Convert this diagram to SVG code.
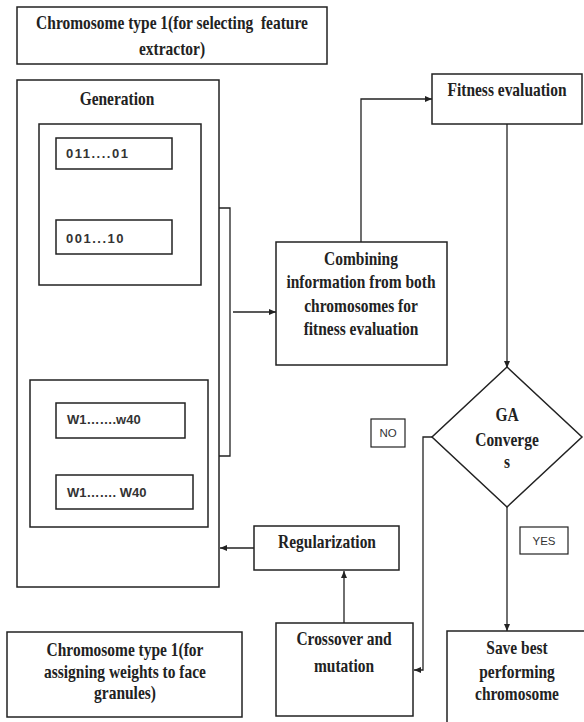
<svg xmlns="http://www.w3.org/2000/svg" width="584" height="722" viewBox="0 0 584 722">
<style>
.box{fill:#fff;stroke:#222;stroke-width:1.5}
.t{font-family:'Liberation Serif','DejaVu Serif',serif;font-weight:bold;font-size:18px;fill:#222;text-anchor:middle}
.c{font-family:'Liberation Sans','DejaVu Sans',sans-serif;font-weight:bold;font-size:13px;fill:#333}
.s{font-family:'Liberation Sans','DejaVu Sans',sans-serif;font-size:11.5px;fill:#333;text-anchor:middle}
.ln{fill:none;stroke:#222;stroke-width:1.3}
</style>
<defs>
<marker id="ah" markerWidth="8" markerHeight="8" refX="7" refY="4" orient="auto" markerUnits="userSpaceOnUse">
<path d="M0,1 L7,4 L0,7 Z" fill="#222"/>
</marker>
</defs>
<rect width="584" height="722" fill="#fff"/>

<g id="connectors">
<polyline class="ln" points="201,208 230,208 230,456 208,456"/>
<line class="ln" x1="233" y1="312" x2="276" y2="312" marker-end="url(#ah)"/>
<polyline class="ln" points="361,242 361,99 432,99" marker-end="url(#ah)"/>
<line class="ln" x1="507" y1="124" x2="507" y2="368" marker-end="url(#ah)"/>
<polyline class="ln" points="432,437 423,437 423,670 414,670" marker-end="url(#ah)"/>
<line class="ln" x1="507" y1="507" x2="507" y2="631" marker-end="url(#ah)"/>
<line class="ln" x1="344" y1="623" x2="344" y2="571" marker-end="url(#ah)"/>
<line class="ln" x1="254" y1="548" x2="220" y2="548" marker-end="url(#ah)"/>
</g>

<g id="chromo-type1-top">
<rect class="box" x="17" y="7" width="310" height="57"/>
<text class="t" transform="translate(172,29) scale(0.86,1)" style="white-space:pre">Chromosome type 1(for selecting  feature</text>
<text class="t" transform="translate(172,55) scale(0.86,1)">extractor)</text>
</g>

<g id="generation">
<rect class="box" x="17" y="80" width="202" height="507"/>
<text class="t" transform="translate(117,105) scale(0.86,1)">Generation</text>
</g>

<g id="group1">
<rect class="box" x="39" y="124" width="162" height="161"/>
</g>
<g id="bits1">
<rect class="box" x="56" y="138" width="116" height="31"/>
<text class="c" x="66" y="158" letter-spacing="1.5">011....01</text>
</g>
<g id="bits2">
<rect class="box" x="56" y="220" width="116" height="34"/>
<text class="c" x="66" y="243" letter-spacing="1.5">001...10</text>
</g>

<g id="group2">
<rect class="box" x="30" y="380" width="178" height="147"/>
</g>
<g id="weights1">
<rect class="box" x="56" y="403" width="129" height="35"/>
<text class="c" x="67" y="424">W1…….w40</text>
</g>
<g id="weights2">
<rect class="box" x="56" y="475" width="137" height="34"/>
<text class="c" x="67" y="497">W1……. W40</text>
</g>

<g id="combining">
<rect class="box" x="276" y="242" width="171" height="123"/>
<text class="t" transform="translate(361,265) scale(0.86,1)">Combining</text>
<text class="t" transform="translate(361,288) scale(0.86,1)">information from both</text>
<text class="t" transform="translate(361,312) scale(0.86,1)">chromosomes for</text>
<text class="t" transform="translate(361,335) scale(0.86,1)">fitness evaluation</text>
</g>

<g id="fitness">
<rect class="box" x="432" y="74" width="150" height="50"/>
<text class="t" transform="translate(507,96) scale(0.86,1)">Fitness evaluation</text>
</g>

<g id="ga-converges">
<polygon class="box" points="507,367 582,437 507,507 432,437"/>
<text class="t" transform="translate(507,421) scale(0.86,1)">GA</text>
<text class="t" transform="translate(507,446) scale(0.86,1)">Converge</text>
<text class="t" transform="translate(507,468) scale(0.86,1)">s</text>
</g>

<g id="no-label">
<rect class="box" x="371" y="419" width="34" height="28" style="stroke-width:1.2"/>
<text class="s" x="388" y="437">NO</text>
</g>

<g id="yes-label">
<rect class="box" x="520" y="527" width="48" height="27" style="stroke-width:1.2"/>
<text class="s" x="544" y="545">YES</text>
</g>

<g id="regularization">
<rect class="box" x="254" y="526" width="145" height="44"/>
<text class="t" transform="translate(327,548) scale(0.86,1)">Regularization</text>
</g>

<g id="crossover">
<rect class="box" x="276" y="623" width="137" height="93"/>
<text class="t" transform="translate(344,645) scale(0.86,1)">Crossover and</text>
<text class="t" transform="translate(344,672) scale(0.86,1)">mutation</text>
</g>

<g id="save-best">
<rect class="box" x="447" y="631" width="160" height="110"/>
<text class="t" transform="translate(517,654) scale(0.86,1)">Save best</text>
<text class="t" transform="translate(517,678) scale(0.86,1)">performing</text>
<text class="t" transform="translate(517,700) scale(0.86,1)">chromosome</text>
</g>

<g id="chromo-type1-bottom">
<rect class="box" x="7" y="632" width="235" height="85"/>
<text class="t" transform="translate(125,656) scale(0.86,1)">Chromosome type 1(for</text>
<text class="t" transform="translate(125,678) scale(0.86,1)">assigning weights to face</text>
<text class="t" transform="translate(125,699) scale(0.86,1)">granules)</text>
</g>
</svg>
